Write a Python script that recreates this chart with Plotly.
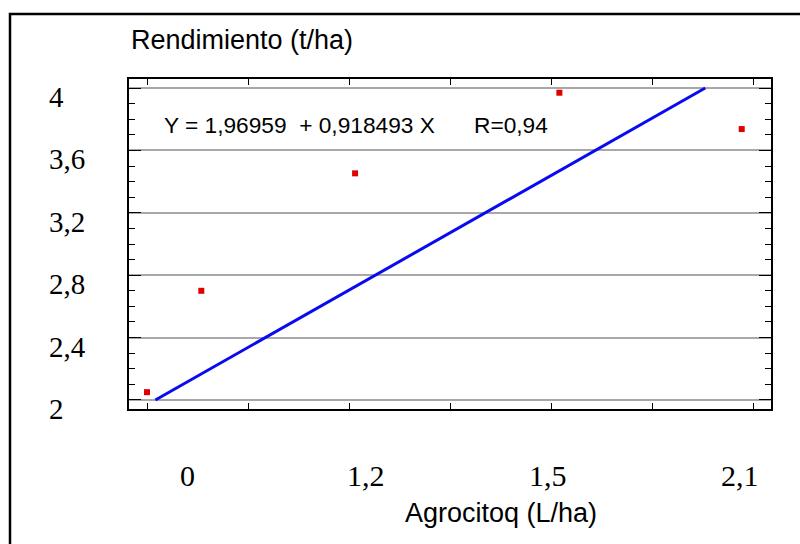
import plotly.graph_objects as go

# ---- data ----
x_vals = [0.0, 0.215, 0.824, 1.633, 2.355]
y_vals = [2.05, 2.70, 3.453, 3.97, 3.737]

intercept = 1.96959
slope = 0.918493
y_limits = [2.0, 4.0]

y_ticks = [2.0, 2.4, 2.8, 3.2, 3.6, 4.0]
y_tick_text = ["2", "2,4", "2,8", "3,2", "3,6", "4"]
x_ticks = [0.0, 0.4, 0.8, 1.2, 1.6, 2.0, 2.4]
x_label_text = ["0", "1,2", "1,5", "2,1"]
x_label_pos = [0.162, 0.867, 1.588, 2.349]

x_title = "Agrocitoq (L/ha)"
y_title = "Rendimiento (t/ha)"
eq_text = "Y = 1,96959\u00a0\u00a0+ 0,918493 X"
r_text = "R=0,94"

# regression line clipped to the plotted Y range
line_x = [(v - intercept) / slope for v in y_limits]
line_y = [intercept + slope * v for v in line_x]

# ---- figure ----
L, R, T, B = 129, 29, 79, 135
W, H = 800, 544
pw, ph = W - L - R, H - T - B

def px_x(p):
    return (p - L) / pw

def px_y(p):
    return (H - B - p) / ph

fig = go.Figure()
fig.add_trace(go.Scatter(x=line_x, y=line_y, mode="lines",
                         line=dict(color="#0a0af0", width=3), hoverinfo="skip"))
fig.add_trace(go.Scatter(x=x_vals, y=y_vals, mode="markers",
                         marker=dict(symbol="square", size=6, color="#e00000",
                                     line=dict(width=0))))

sans = "Liberation Sans, Arial, sans-serif"
serif = "Liberation Serif, Times New Roman, serif"

annotations = []
for v, t in zip(y_ticks, y_tick_text):
    annotations.append(dict(x=px_x(47), xref="paper", y=v, yref="y", yshift=-9,
                            text=t, showarrow=False, xanchor="left", yanchor="middle",
                            font=dict(family=serif, size=29, color="black")))
for v, t in zip(x_label_pos, x_label_text):
    annotations.append(dict(x=v, xref="x", y=px_y(475), yref="paper",
                            text=t, showarrow=False, xanchor="center", yanchor="middle",
                            font=dict(family=serif, size=30, color="black")))
annotations.append(dict(x=0, xref="paper", y=px_y(40), yref="paper", text=y_title,
                        showarrow=False, xanchor="left", yanchor="middle",
                        font=dict(family=sans, size=27, color="black")))
annotations.append(dict(x=px_x(501), xref="paper", y=px_y(513), yref="paper", text=x_title,
                        showarrow=False, xanchor="center", yanchor="middle",
                        font=dict(family=sans, size=27, color="black")))
annotations.append(dict(x=px_x(162), xref="paper", y=px_y(125), yref="paper", text=eq_text,
                        showarrow=False, xanchor="left", yanchor="middle",
                        font=dict(family=sans, size=22.7, color="black")))
annotations.append(dict(x=px_x(472), xref="paper", y=px_y(125), yref="paper", text=r_text,
                        showarrow=False, xanchor="left", yanchor="middle",
                        font=dict(family=sans, size=22.7, color="black")))

fig.update_layout(
    width=W, height=H,
    margin=dict(l=L, r=R, t=T, b=B, pad=0),
    paper_bgcolor="white", plot_bgcolor="white",
    showlegend=False,
    annotations=annotations,
    shapes=[dict(type="rect", xref="paper", yref="paper",
                 x0=px_x(10), x1=px_x(1200), y0=px_y(900), y1=px_y(14),
                 line=dict(color="black", width=2.5), layer="above")],
    xaxis=dict(range=[-0.0713, 2.471], tickvals=x_ticks, showticklabels=False,
               ticks="inside", ticklen=6, tickcolor="black", showgrid=False,
               zeroline=False, showline=True, linecolor="black", linewidth=1.5,
               mirror="ticks"),
    yaxis=dict(range=[1.942, 4.058], tickvals=y_ticks, showticklabels=False,
               ticks="inside", ticklen=12, tickcolor="black", showgrid=True,
               gridcolor="#a8a8a8", gridwidth=1.5, zeroline=False, showline=True,
               linecolor="black", linewidth=1.5, mirror="ticks",
               minor=dict(dtick=0.1, tick0=0, ticks="inside", ticklen=6,
                          tickcolor="black", showgrid=False)),
)

fig.write_html("out.html")
